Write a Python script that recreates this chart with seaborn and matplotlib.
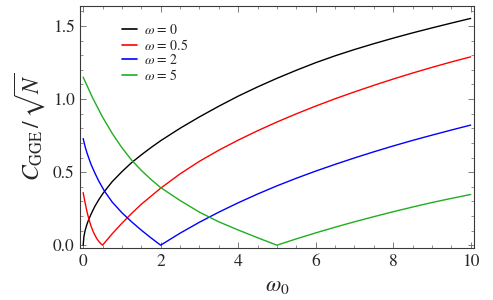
import numpy as np
import pandas as pd
import matplotlib
matplotlib.use("Agg")
import matplotlib.pyplot as plt
from matplotlib.ticker import MultipleLocator
import seaborn as sns

# values
x_w0 = [0, 0.02, 0.05, 0.1, 0.15, 0.2, 0.3, 0.4, 0.5, 0.6, 0.75, 1.0, 1.25, 1.5, 1.75, 2.0, 2.5,
        3.0, 3.5, 4.0, 4.5, 5.0, 5.5, 6.0, 6.5, 7.0, 7.5, 8.0, 8.5, 9.0, 9.5, 10.0]
c_w0 = [0, 0.06, 0.10, 0.145, 0.18, 0.21, 0.265, 0.31, 0.35, 0.385, 0.435, 0.503, 0.565, 0.618, 0.668, 0.715, 0.800,
        0.878, 0.951, 1.020, 1.083, 1.142, 1.197, 1.249, 1.296, 1.339, 1.379, 1.417, 1.453, 1.487, 1.520, 1.552]

x_w05 = [0, 0.05, 0.1, 0.15, 0.2, 0.25, 0.3, 0.35, 0.4, 0.45, 0.5, 0.75, 1.0, 1.25, 1.5, 2.0, 2.5, 3.0, 3.5,
         4.0, 4.5, 5.0, 5.5, 6.0, 6.5, 7.0, 7.5, 8.0, 8.5, 9.0, 9.5, 10.0]
c_w05 = [0.36, 0.29, 0.228, 0.175, 0.133, 0.098, 0.07, 0.046, 0.027, 0.012, 0.0, 0.078, 0.150, 0.217, 0.280, 0.390, 0.488, 0.574, 0.650,
         0.719, 0.783, 0.843, 0.899, 0.952, 1.002, 1.049, 1.094, 1.137, 1.178, 1.217, 1.254, 1.289]

x_w2 = [0, 0.05, 0.1, 0.2, 0.3, 0.4, 0.55, 0.75, 1.0, 1.25, 1.5, 1.75, 2.0, 2.5, 3.0, 3.5,
        4.0, 4.5, 5.0, 5.5, 6.0, 6.5, 7.0, 7.5, 8.0, 8.5, 9.0, 9.5, 10.0]
c_w2 = [0.73, 0.675, 0.63, 0.555, 0.495, 0.44, 0.37, 0.295, 0.222, 0.16, 0.103, 0.05, 0.0, 0.082, 0.157, 0.226,
        0.290, 0.350, 0.406, 0.458, 0.507, 0.553, 0.597, 0.639, 0.679, 0.717, 0.753, 0.788, 0.822]

x_w5 = [0, 0.25, 0.5, 0.75, 1.0, 1.25, 1.5, 1.75, 2.0, 2.5, 3.0, 3.5, 4.0, 4.5, 5.0,
        5.5, 6.0, 6.5, 7.0, 7.5, 8.0, 8.5, 9.0, 9.5, 10.0]
c_w5 = [1.15, 1.005, 0.877, 0.765, 0.667, 0.582, 0.512, 0.450, 0.394, 0.306, 0.226, 0.160, 0.104, 0.051, 0.0,
        0.043, 0.084, 0.123, 0.160, 0.195, 0.229, 0.261, 0.292, 0.320, 0.347]

labels = [r"$\omega$ = 0", r"$\omega$ = 0.5", r"$\omega$ = 2", r"$\omega$ = 5"]
colors = ["black", "#ff0000", "#0000ff", "#1fae1f"]

frames = []
for lab, xs, ys in zip(labels, [x_w0, x_w05, x_w2, x_w5], [c_w0, c_w05, c_w2, c_w5]):
    frames.append(pd.DataFrame({"w0": xs, "C": ys, "curve": lab}))
df = pd.concat(frames, ignore_index=True)

sns.set_style("ticks")
plt.rcParams["font.family"] = ["STIXGeneral", "DejaVu Serif"]
plt.rcParams["mathtext.fontset"] = "stix"

fig = plt.figure(figsize=(4.93, 3.0), dpi=100)
ax = fig.add_axes([0.162, 0.173, 0.799, 0.807])

sns.lineplot(data=df, x="w0", y="C", hue="curve", hue_order=labels,
             palette=dict(zip(labels, colors)), estimator=None, sort=False,
             linewidth=1.0, ax=ax)

ax.set_xlim(-0.085, 10.08)
ax.set_ylim(-0.02, 1.637)
ax.xaxis.set_minor_locator(MultipleLocator(0.5))
ax.yaxis.set_minor_locator(MultipleLocator(0.1))
ax.set_xticks([0, 2, 4, 6, 8, 10])
ax.set_xticklabels(["0", "2", "4", "6", "8", "10"])
ax.set_yticks([0, 0.5, 1.0, 1.5])
ax.set_yticklabels(["0.0", "0.5", "1.0", "1.5"])

frame_col = "#3a3a3a"
for sp in ax.spines.values():
    sp.set_visible(True)
    sp.set_color(frame_col)
    sp.set_linewidth(0.8)
ax.tick_params(which="both", direction="in", top=True, right=True,
               color="#666666", labelsize=12.5, pad=4)
ax.tick_params(which="major", length=4, width=0.6)
ax.tick_params(which="minor", length=2.2, width=0.5)

ax.set_xlabel(r"$\omega_0$", fontsize=16, labelpad=5)
ax.set_ylabel(r"$C_{\mathrm{GGE}}\,/\,\sqrt{N}$", fontsize=17, labelpad=4)

leg = ax.legend(loc="upper left", bbox_to_anchor=(0.085, 0.965), frameon=False,
                fontsize=10, handlelength=1.1, handletextpad=0.5,
                labelspacing=0.05, borderaxespad=0.2)
for line in leg.get_lines():
    line.set_linewidth(1.2)

fig.savefig("out.png", dpi=100)
